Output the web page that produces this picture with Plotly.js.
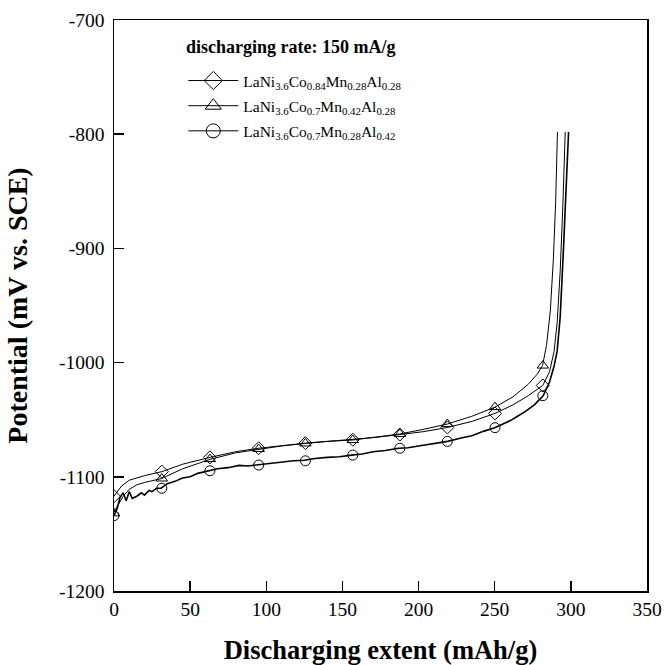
<!DOCTYPE html>
<html>
<head>
<meta charset="utf-8">
<script src="https://cdn.plot.ly/plotly-3.0.1.min.js"></script>
<style>html,body{margin:0;padding:0;background:#fff;}#chart{width:664px;height:665px;}</style>
</head>
<body>
<div id="chart"></div>
<script>
// Series names
const names = [
  "LaNi<sub>3.6</sub>Co<sub>0.84</sub>Mn<sub>0.28</sub>Al<sub>0.28</sub>",
  "LaNi<sub>3.6</sub>Co<sub>0.7</sub>Mn<sub>0.42</sub>Al<sub>0.28</sub>",
  "LaNi<sub>3.6</sub>Co<sub>0.7</sub>Mn<sub>0.28</sub>Al<sub>0.42</sub>"
];
const symbols = ["diamond-open", "triangle-up-open", "circle-open"];
const legendTitle = "discharging rate: 150 mA/g";

// Curve data (mAh/g, mV vs SCE)
const diamondX = [0,5,10,20,31.4,45,63,80,95,110,125.7,140,156.8,172,187.7,203,218.9,235,250.2,262,272,281.6,286,289,291,293,294.8,296.3];
const diamondY = [-1117,-1108,-1103,-1099,-1095.5,-1089,-1083,-1078,-1075,-1072.5,-1070.5,-1069,-1067.5,-1065.5,-1063,-1060.5,-1056.8,-1051.5,-1044.5,-1037,-1029,-1020,-1008,-990,-965,-920,-860,-798];

const triangleX = [0,3,6,10,15,20,31.4,45,63.6,80,95,110,125.7,140,156.8,172,187.7,203,218.9,235,250.2,262,272,278,281.4,284,286.5,288.5,290,291.2];
const triangleY = [-1131,-1124,-1117,-1111,-1107,-1105,-1101.5,-1093,-1084.5,-1079,-1075.7,-1073,-1070.8,-1069,-1067.8,-1065,-1062.5,-1058.5,-1053.8,-1047,-1039,-1030,-1019,-1010,-1002.6,-985,-955,-910,-860,-798];

const circleX = [0,2,4,6,8,10,12,15,18,20,23,25,28,31,35,40,45,50,55,62,68,75,82,88,94,100,110,118,125,132,140,148,156,163,170,178,187,193,200,210,219,228,235,243,250,255,260,265,270,276,281.8,286,289,291,293,295,297,298.5];
const circleY = [-1134,-1128,-1118,-1114,-1121,-1113,-1119,-1117,-1114,-1116,-1112,-1113,-1110,-1110,-1106,-1104,-1101,-1100,-1097,-1095,-1093,-1092,-1090,-1090.5,-1089.5,-1088.5,-1087,-1086,-1085.5,-1084,-1083,-1082.5,-1081,-1080,-1078,-1077,-1075,-1074.5,-1073,-1071,-1069,-1066,-1064,-1060,-1057,-1054,-1051,-1047,-1043,-1037,-1029,-1017,-1003,-990,-960,-905,-840,-798];

// Marker points
const markX = [0,31.4,63,95,125.7,156.8,187.7,218.9,250.2,281.6];
const diamondMarkY = [-1117,-1095.5,-1083,-1075,-1070.5,-1067.5,-1063,-1056.8,-1044.5,-1020];
const triangleMarkY = [-1132,-1101.5,-1084.5,-1075.7,-1070.8,-1067.8,-1062.5,-1053.8,-1039,-1002.6];
const circleMarkY = [-1134,-1110,-1094.7,-1089.7,-1086,-1081,-1075,-1069,-1057,-1029];

const xTicks = [0,50,100,150,200,250,300,350];
const yTicks = [-1200,-1100,-1000,-900,-800,-700];

const lineSets = [[diamondX, diamondY, 1], [triangleX, triangleY, 1], [circleX, circleY, 1.6]];
const markSets = [diamondMarkY, triangleMarkY, circleMarkY];

const traces = [];
lineSets.forEach((s, i) => {
  traces.push({x: s[0], y: s[1], mode: 'lines', line: {color: '#000', width: s[2]}, showlegend: false, hoverinfo: 'skip'});
});
markSets.forEach((my, i) => {
  traces.push({x: markX, y: my, mode: 'markers', showlegend: false,
    marker: {symbol: symbols[i], size: 10, color: '#000', line: {width: 1, color: '#000'}}});
});
names.forEach((n, i) => {
  traces.push({x: [null], y: [null], mode: 'lines+markers', name: n, legendgroup: 'g' + i,
    line: {color: '#000', width: 1},
    marker: {symbol: symbols[i], size: 14, color: '#000', line: {width: 1, color: '#000'}}});
});

const font = "Liberation Serif, Times New Roman, serif";
const layout = {
  width: 664, height: 665,
  margin: {l: 114, r: 17, t: 20, b: 74},
  paper_bgcolor: '#fff', plot_bgcolor: '#fff',
  font: {family: font, color: '#000', size: 17},
  xaxis: {
    range: [0, 350], tickvals: xTicks, ticktext: xTicks.map(String),
    ticks: 'inside', ticklen: 10, tickwidth: 1.5, tickcolor: '#000',
    showline: true, linecolor: '#000', linewidth: 1.5, mirror: true,
    showgrid: false, zeroline: false,
    tickfont: {size: 19.5, family: font},
    title: {text: '<b>Discharging extent (mAh/g)</b>', font: {size: 26.5, family: font}, standoff: 22}
  },
  yaxis: {
    range: [-1200, -700], tickvals: yTicks, ticktext: yTicks.map(String),
    ticks: 'inside', ticklen: 10, tickwidth: 1.5, tickcolor: '#000',
    showline: true, linecolor: '#000', linewidth: 1.5, mirror: true,
    showgrid: false, zeroline: false, ticklabelstandoff: 4,
    tickfont: {size: 19.5, family: font},
    title: {text: '<b>Potential (mV vs. SCE)</b>', font: {size: 28, family: font}, standoff: 23}
  },
  legend: {
    x: 0.13, y: 0.923, xanchor: 'left', yanchor: 'top',
    bgcolor: 'rgba(0,0,0,0)', borderwidth: 0,
    font: {size: 15.5, family: font},
    itemwidth: 50,
    tracegroupgap: 2
  },
  annotations: [{
    text: '<b>' + legendTitle + '</b>', xref: 'paper', yref: 'paper',
    x: 0.131, y: 0.953, xanchor: 'left', yanchor: 'middle', showarrow: false,
    font: {size: 18, family: font, color: '#000'}
  }]
};

Plotly.newPlot('chart', traces, layout, {displayModeBar: false, staticPlot: true});
</script>
</body>
</html>
